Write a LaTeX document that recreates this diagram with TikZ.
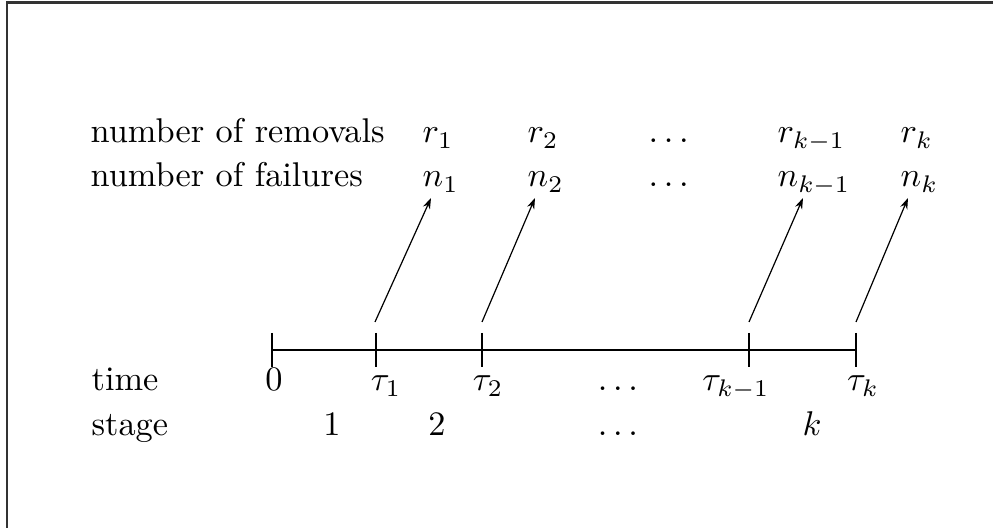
\documentclass[tikz,border=0pt]{standalone}
\usetikzlibrary{arrows.meta}
\begin{document}
\begin{tikzpicture}[x=0.2914pt,y=-0.2914pt,
  lbl/.style={inner sep=0pt,anchor=base west},
  val/.style={inner sep=0pt,anchor=base west},
  ctr/.style={inner sep=0pt,anchor=base},
  axis/.style={line width=0.55pt},
  arr/.style={line width=0.35pt,-{Stealth[length=3.2pt,width=2.2pt]}},
  frame/.style={line width=0.6pt,black!80}]
\useasboundingbox (0,0) rectangle (993,528);
% frame (left and top edges)
\coordinate (fbl) at (7,528);
\coordinate (ftl) at (7,2.5);
\coordinate (ftr) at (993,2.5);
\draw[frame] (fbl) -- (ftl) -- (ftr);
% row labels
\node[lbl] (lrem) at (90,143) {number of removals};
\node[lbl] (lfail) at (90,187) {number of failures};
\node[lbl] (ltime) at (91,391) {time};
\node[lbl] (lstage) at (91,436) {stage};
% removals
\node[val] (r1) at (422,143) {$r_1$};
\node[val] (r2) at (527,143) {$r_2$};
\node[val] (rd) at (648,143) {$\ldots$};
\node[val] (rk1) at (777,143) {$r_{k-1}$};
\node[val] (rk) at (900,143) {$r_k$};
% failures
\node[val] (n1) at (422,187) {$n_1$};
\node[val] (n2) at (527,187) {$n_2$};
\node[val] (nd) at (648,187) {$\ldots$};
\node[val] (nk1) at (777,187) {$n_{k-1}$};
\node[val] (nk) at (900,187) {$n_k$};
% time axis
\coordinate (t0) at (272,350);
\coordinate (t1) at (376,350);
\coordinate (t2) at (482,350);
\coordinate (tk1) at (749,350);
\coordinate (tk) at (856,350);
\draw[axis] (t0) -- (tk);
\foreach \t in {t0,t1,t2,tk1,tk}
  \draw[axis] ([yshift=5pt]\t) -- ([yshift=-5pt]\t);
% time labels
\node[ctr] (l0) at (274,391) {$0$};
\node[ctr] (lt1) at (386,391) {$\tau_1$};
\node[ctr] (lt2) at (488,391) {$\tau_2$};
\node[ctr] (ltd) at (618,391) {$\ldots$};
\node[ctr] (ltk1) at (736,391) {$\tau_{k-1}$};
\node[ctr] (ltk) at (863,391) {$\tau_k$};
% stage labels
\node[ctr] (s1) at (332,436) {$1$};
\node[ctr] (s2) at (437,436) {$2$};
\node[ctr] (sd) at (618,436) {$\ldots$};
\node[ctr] (sk) at (812,436) {$k$};
% arrows
\coordinate (a1) at (375,322);
\coordinate (b1) at (431,198);
\coordinate (a2) at (482,322);
\coordinate (b2) at (535,198);
\coordinate (a3) at (749,322);
\coordinate (b3) at (803,198);
\coordinate (a4) at (856,322);
\coordinate (b4) at (908,198);
\draw[arr] (a1) -- (b1);
\draw[arr] (a2) -- (b2);
\draw[arr] (a3) -- (b3);
\draw[arr] (a4) -- (b4);
\end{tikzpicture}
\end{document}
